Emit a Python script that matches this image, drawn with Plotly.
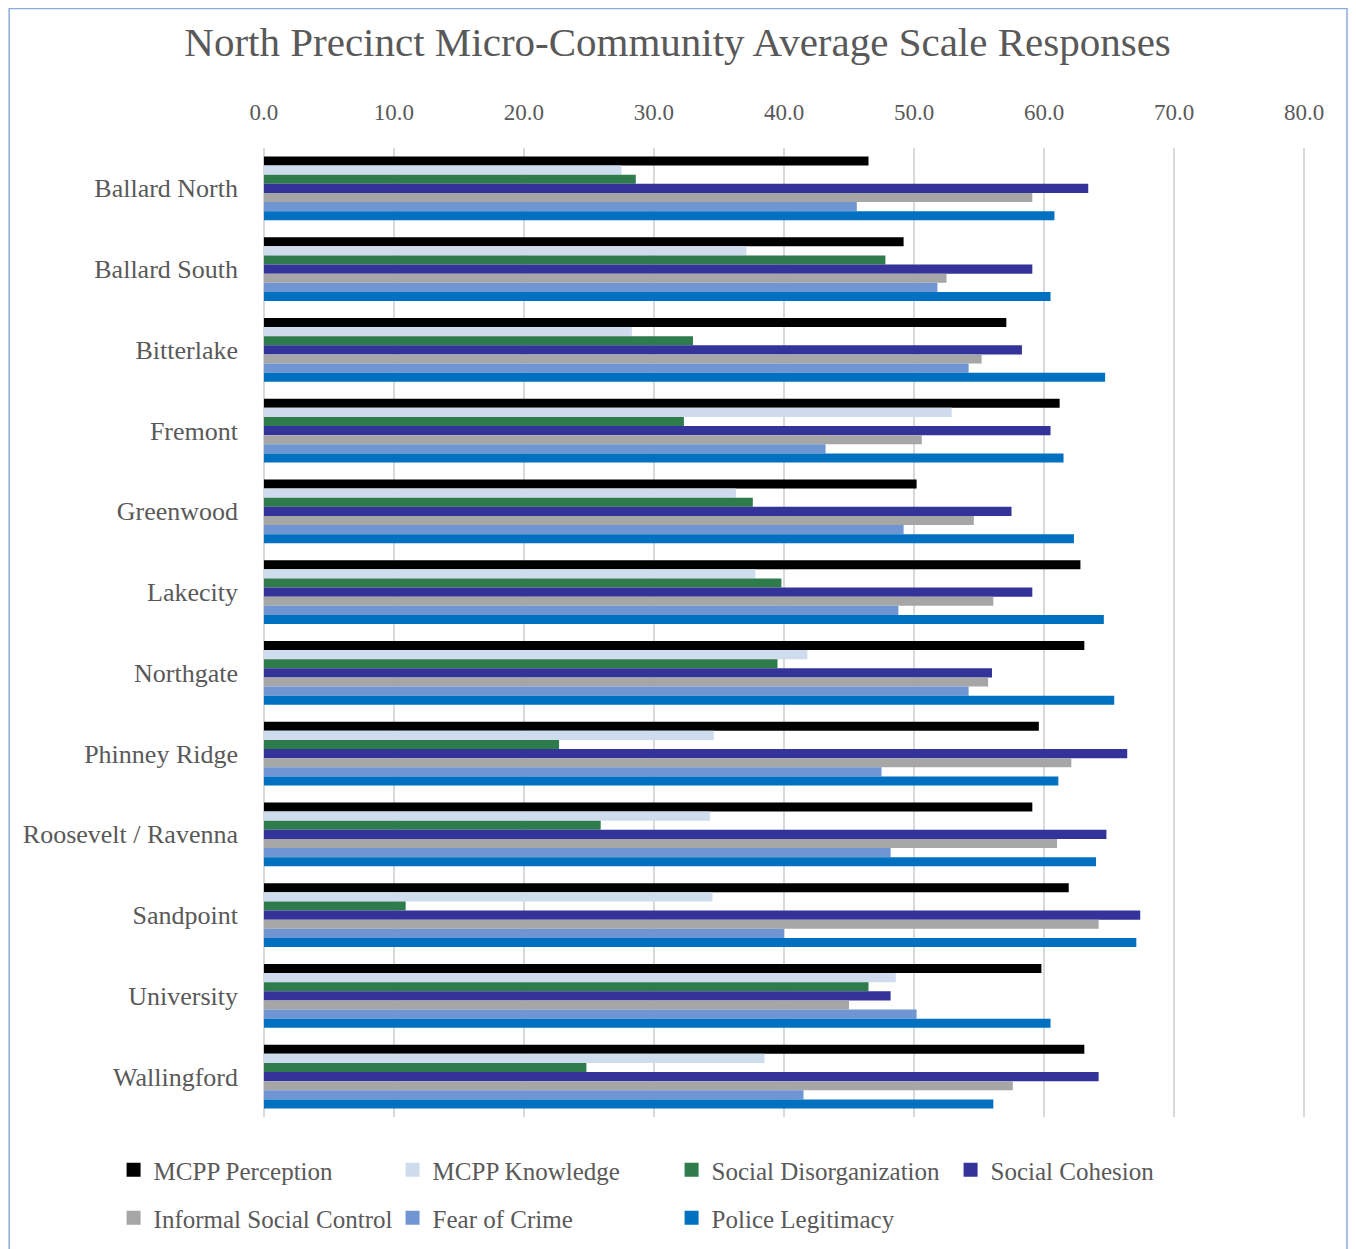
import plotly.graph_objects as go

communities = ["Ballard North", "Ballard South", "Bitterlake", "Fremont", "Greenwood", "Lakecity",
               "Northgate", "Phinney Ridge", "Roosevelt / Ravenna", "Sandpoint", "University", "Wallingford"]

mcpp_perception = [46.5, 49.2, 57.1, 61.2, 50.2, 62.8, 63.1, 59.6, 59.1, 61.9, 59.8, 63.1]
mcpp_knowledge = [27.5, 37.1, 28.3, 52.9, 36.3, 37.8, 41.8, 34.6, 34.3, 34.5, 48.6, 38.5]
social_disorg = [28.6, 47.8, 33.0, 32.3, 37.6, 39.8, 39.5, 22.7, 25.9, 10.9, 46.5, 24.8]
social_cohesion = [63.4, 59.1, 58.3, 60.5, 57.5, 59.1, 56.0, 66.4, 64.8, 67.4, 48.2, 64.2]
informal_control = [59.1, 52.5, 55.2, 50.6, 54.6, 56.1, 55.7, 62.1, 61.0, 64.2, 45.0, 57.6]
fear_of_crime = [45.6, 51.8, 54.2, 43.2, 49.2, 48.8, 54.2, 47.5, 48.2, 40.0, 50.2, 41.5]
police_legit = [60.8, 60.5, 64.7, 61.5, 62.3, 64.6, 65.4, 61.1, 64.0, 67.1, 60.5, 56.1]

series = [
    ("MCPP Perception", mcpp_perception, "#000000", "legend"),
    ("MCPP Knowledge", mcpp_knowledge, "#CFDCEE", "legend"),
    ("Social Disorganization", social_disorg, "#2E7B4C", "legend"),
    ("Social Cohesion", social_cohesion, "#343399", "legend"),
    ("Informal Social Control", informal_control, "#A6A6A6", "legend2"),
    ("Fear of Crime", fear_of_crime, "#6F96D2", "legend2"),
    ("Police Legitimacy", police_legit, "#0070C0", "legend2"),
]

FONT = "Liberation Serif"
TXT = "#595959"

fig = go.Figure()
for name, vals, color, leg in series:
    fig.add_trace(go.Bar(
        y=communities, x=vals, name=name, orientation='h',
        marker=dict(color=color, line=dict(width=0)),
        showlegend=False
    ))

# legend entries drawn as square markers so the swatches match the original size
for name, vals, color, leg in series:
    fig.add_trace(go.Scatter(
        x=[None], y=[None], mode='markers', name=name, legend=leg,
        marker=dict(color=color, size=14, symbol='square'),
        showlegend=True
    ))

# page has an 8px body margin, so work in screen px and subtract it
OFF = 8
W, H = 1348, 1241
X_LO, X_HI = -0.15, 80.15          # small pad so the 0 and 80 gridlines get drawn
PX_PER = 1041 / 80                 # 0 at 263.5px, 80 at 1304.5px
left_px = 263.5 + X_LO * PX_PER
right_px = 263.5 + X_HI * PX_PER
L, T = left_px - OFF, 148 - OFF
R = W - (right_px - OFF)
B = H - (1117 - OFF)
pw, ph = W - L - R, H - T - B

def px_x(p):
    return (p - OFF - L) / pw

def px_y(p):
    return (H - B - (p - OFF)) / ph

legend_common = dict(orientation='h', font=dict(family=FONT, size=25, color=TXT),
                     entrywidth=234, entrywidthmode='pixels', bgcolor='rgba(0,0,0,0)',
                     xanchor='left', yanchor='middle', itemsizing='trace')

fig.update_layout(
    width=W, height=H,
    barmode='group', bargap=0.21, bargroupgap=0,
    paper_bgcolor='white', plot_bgcolor='white',
    font=dict(family=FONT, color=TXT),
    title=dict(text="North Precinct Micro-Community Average Scale Responses",
               x=px_x(677.5), xanchor='center', xref='paper',
               y=1 - (42 - OFF) / H, yanchor='middle',
               font=dict(family=FONT, size=41, color=TXT)),
    margin=dict(l=L, r=R, t=T, b=B, autoexpand=False),
    legend=dict(x=px_x(113), y=px_y(1170), **legend_common),
    legend2=dict(x=px_x(113), y=px_y(1218), **legend_common),
    shapes=[dict(type='rect', xref='paper', yref='paper',
                 x0=px_x(8.5), x1=px_x(1347.5), y0=px_y(1262), y1=px_y(8.5),
                 line=dict(color='#8EAADB', width=1.5), fillcolor='rgba(0,0,0,0)', layer='below')],
)

fig.update_xaxes(side='top', range=[X_LO, X_HI], dtick=10, tick0=0, tickformat='.1f',
                 showgrid=True, gridcolor='#D9D9D9', gridwidth=1.5, zeroline=False,
                 showline=False, ticks='', ticklabelstandoff=22,
                 tickfont=dict(family=FONT, size=23, color=TXT))
fig.update_yaxes(autorange='reversed', showgrid=False, zeroline=False, showline=False,
                 ticks='', ticklabelstandoff=23,
                 tickfont=dict(family=FONT, size=26, color=TXT))

fig.write_html("out.html")
